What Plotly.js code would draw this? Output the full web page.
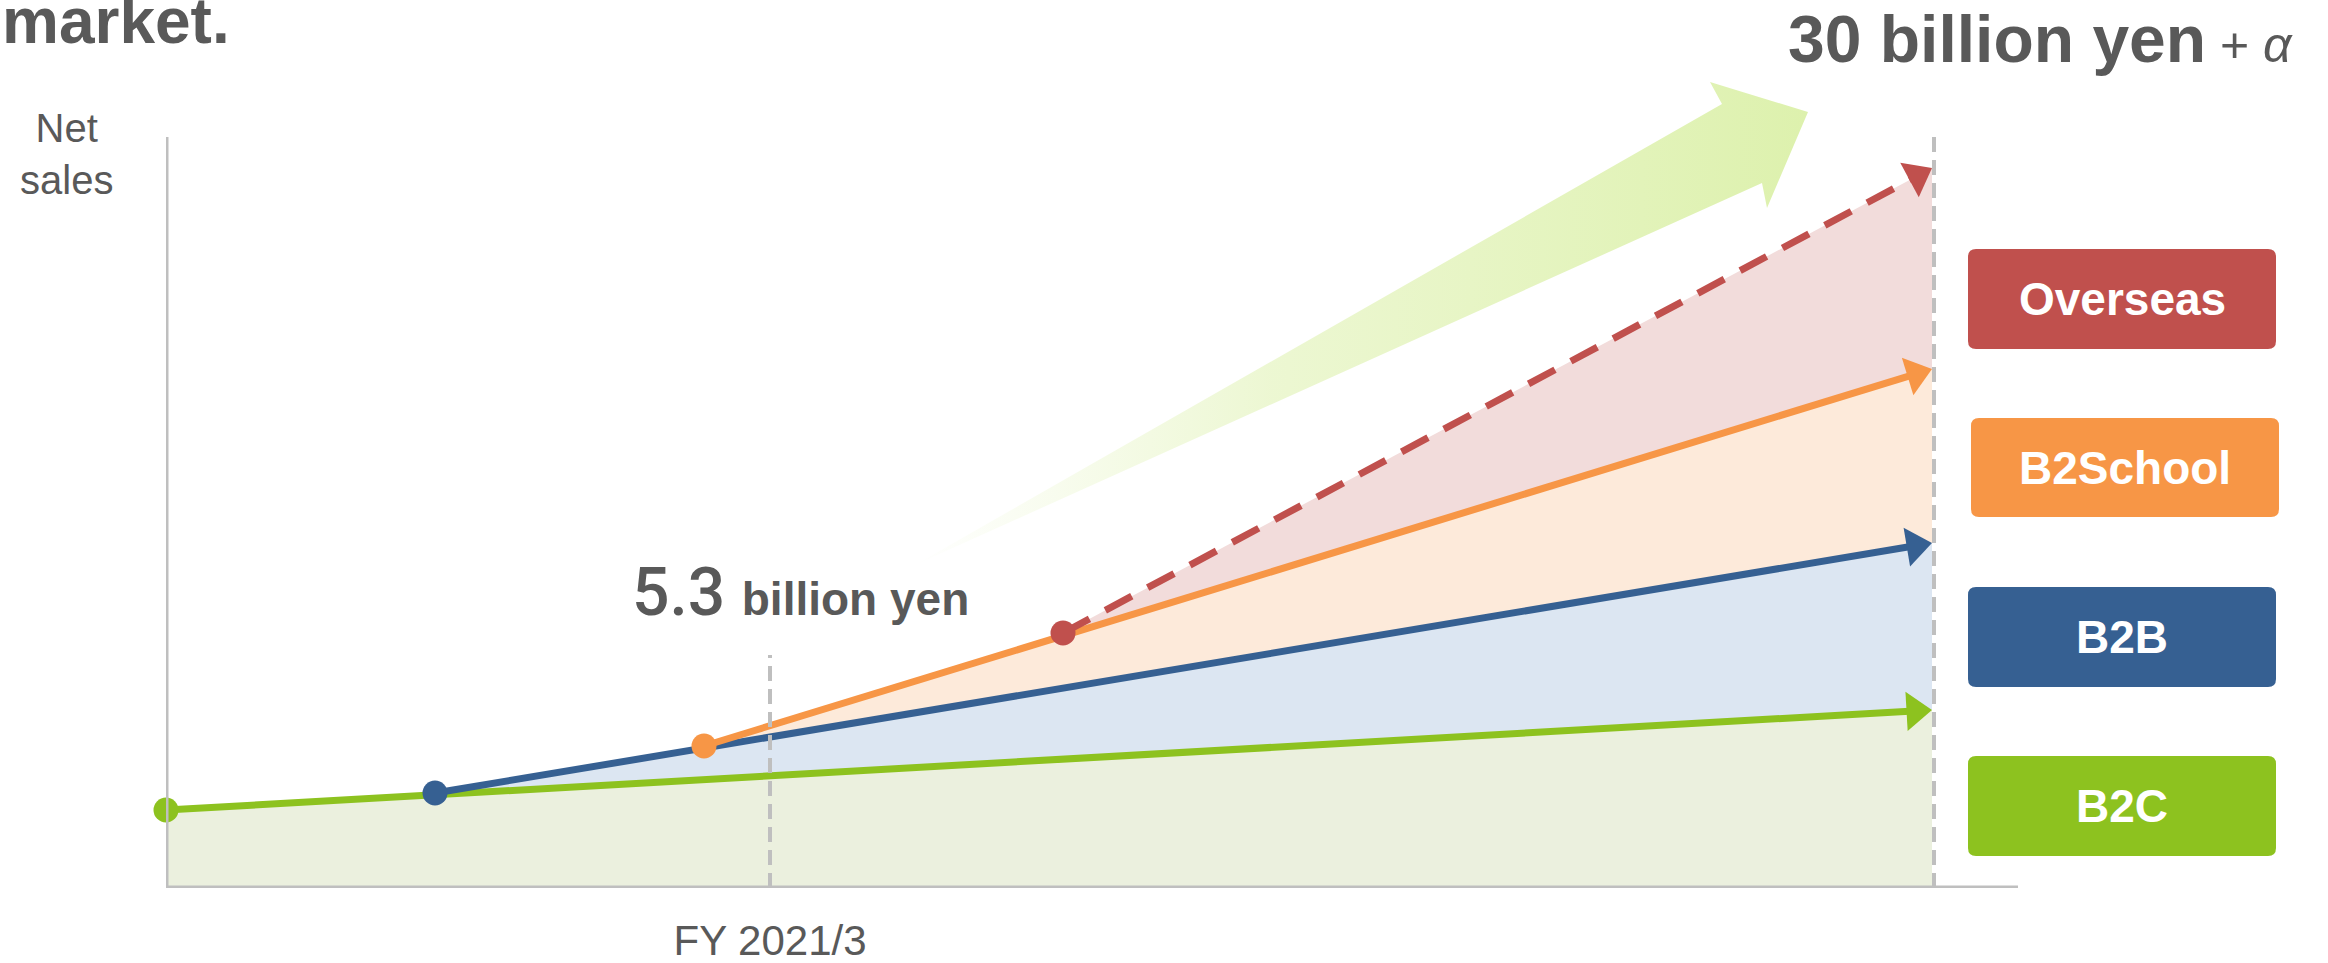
<!DOCTYPE html>
<html><head><meta charset="utf-8">
<script src="https://cdn.plot.ly/plotly-3.0.1.min.js"></script>
<style>html,body{margin:0;padding:0;background:#fff}#chart{width:2328px;height:963px}</style>
</head><body><div id="chart"></div>
<script>
// ---- Data (abstract units) ----
const segments = ['B2C', 'B2B', 'B2School', 'Overseas'];
const b2cX = [0, 1766];
const b2cY = [78, 178];
const b2bX = [269, 1766];
const b2bY = [95, 345];
const b2sX = [538, 1766];
const b2sY = [142, 519];
const ovsX = [897, 1766];
const ovsY = [255, 720];
const tickVals = [604];
const tickText = ['FY 2021/3'];
const startLabel = ['5.3', 'billion yen'];
const endLabel = ['30 billion yen', '+', 'α'];
const legendLabels = ['Overseas', 'B2School', 'B2B', 'B2C'];

// ---- Styles ----
const lineColors = {B2C: '#8DC21F', B2B: '#366092', B2School: '#F79646', Overseas: '#C0504D'};
const fillColors = {B2C: 'rgb(235,240,222)', B2B: 'rgb(220,230,242)', B2School: 'rgb(253,234,218)', Overseas: 'rgb(242,220,219)'};
const textGrey = '#595959';
const axisGrey = '#BFBFBF';
const FONT = 'Liberation Sans, Arial, sans-serif';

const traces = [];

// decorative growth arrow (gradient)
const deco = {x: [749, 1556, 1544, 1642, 1601, 1596, 749], y: [323, 784, 806, 776, 680, 705, 323]};
traces.push({
  type: 'scatter', mode: 'none', x: deco.x, y: deco.y, fill: 'toself',
  fillgradient: {type: 'horizontal', colorscale: [[0, 'rgba(226,243,185,0)'], [0.4, 'rgba(224,242,180,0.6)'], [1, 'rgba(221,241,173,1)']]},
  hoverinfo: 'skip', showlegend: false
});

// filled areas
traces.push({type: 'scatter', mode: 'none', x: b2cX, y: b2cY, fill: 'tozeroy', fillcolor: fillColors.B2C, hoverinfo: 'skip', showlegend: false});
function band(xa, ya, xb, yb, color) {
  return {type: 'scatter', mode: 'none', x: [xa[0], xa[1], xb[1], xa[0]], y: [ya[0], ya[1], yb[1], ya[0]],
    fill: 'toself', fillcolor: color, hoverinfo: 'skip', showlegend: false};
}
traces.push(band(b2bX, b2bY, b2cX, b2cY, fillColors.B2B));
traces.push(band(b2sX, b2sY, b2bX, b2bY, fillColors.B2School));
traces.push(band(ovsX, ovsY, b2sX, b2sY, fillColors.Overseas));

// lines with end arrow, then start dot
function lineTrace(name, x, y, dash) {
  const c = lineColors[name];
  return {type: 'scatter', mode: 'lines+markers', name, x, y, cliponaxis: false,
    line: {color: c, width: 7, dash: dash || 'solid', backoff: 14},
    marker: {symbol: 'triangle-up', size: [0, 34], standoff: 17, opacity: 1, color: c, angleref: 'previous', line: {width: 0}},
    hoverinfo: 'skip', showlegend: false};
}
function dotTrace(name, x, y) {
  return {type: 'scatter', mode: 'markers', x: [x[0]], y: [y[0]], cliponaxis: false,
    marker: {symbol: 'circle', size: 25, opacity: 1, color: lineColors[name], line: {width: 0}},
    hoverinfo: 'skip', showlegend: false};
}
traces.push(lineTrace('B2C', b2cX, b2cY));
traces.push(dotTrace('B2C', b2cX, b2cY));
traces.push(lineTrace('B2B', b2bX, b2bY));
traces.push(dotTrace('B2B', b2bX, b2bY));
traces.push(lineTrace('B2School', b2sX, b2sY));
traces.push(dotTrace('B2School', b2sX, b2sY));
traces.push(lineTrace('Overseas', ovsX, ovsY, '30px,18px'));
traces.push(dotTrace('Overseas', ovsX, ovsY));

// ---- shapes ----
const endX = b2cX[b2cX.length - 1] + 2;
const shapes = [
  {type: 'line', xref: 'x', yref: 'y', x0: 0, x1: 0, y0: 0, y1: 751, line: {color: axisGrey, width: 5}, layer: 'above'},
  {type: 'line', xref: 'x', yref: 'y', x0: 0, x1: 1852, y0: 0, y1: 0, line: {color: axisGrey, width: 5}, layer: 'above'},
  {type: 'line', xref: 'x', yref: 'y', x0: tickVals[0], x1: tickVals[0], y0: 0, y1: 233, line: {color: axisGrey, width: 4, dash: '15px,8px'}, layer: 'above'},
  {type: 'line', xref: 'x', yref: 'y', x0: endX, x1: endX, y0: 0, y1: 755, line: {color: axisGrey, width: 4, dash: '15px,8px'}, layer: 'above'}
];
function roundRect(x0, y0, x1, y1, r) {
  return `M${x0 + r},${y0} L${x1 - r},${y0} Q${x1},${y0} ${x1},${y0 + r} L${x1},${y1 - r} Q${x1},${y1} ${x1 - r},${y1} L${x0 + r},${y1} Q${x0},${y1} ${x0},${y1 - r} L${x0},${y0 + r} Q${x0},${y0} ${x0 + r},${y0} Z`;
}
const boxPos = [
  {x0: 1802, x1: 2110, y0: 539, y1: 639},
  {x0: 1805, x1: 2113, y0: 371, y1: 470},
  {x0: 1802, x1: 2110, y0: 201, y1: 301},
  {x0: 1802, x1: 2110, y0: 32, y1: 132}
];
const annotations = [];
legendLabels.forEach((lab, i) => {
  const b = boxPos[i];
  shapes.push({type: 'path', xref: 'x', yref: 'y', path: roundRect(b.x0, b.y0, b.x1, b.y1, 8),
    fillcolor: lineColors[lab], line: {width: 0}, layer: 'above'});
  annotations.push({xref: 'x', yref: 'y', x: (b.x0 + b.x1) / 2, y: (b.y0 + b.y1) / 2, text: '<b>' + lab + '</b>',
    showarrow: false, font: {family: FONT, size: 46, color: '#FFFFFF'}, xanchor: 'center', yanchor: 'middle'});
});

// text annotations
annotations.push({xref: 'paper', yref: 'paper', x: -166 / 2162, y: 0.976, xanchor: 'left', yanchor: 'middle', showarrow: false,
  text: '<b>market.</b>', font: {family: FONT, size: 64, color: textGrey}});
annotations.push({xref: 'paper', yref: 'paper', x: -100 / 2162, y: 0.8266, xanchor: 'center', yanchor: 'middle', align: 'center', showarrow: false,
  text: 'Net<br>sales', font: {family: FONT, size: 40, color: textGrey}});
annotations.push({xref: 'x', yref: 'y', x: 464, y: 296, xanchor: 'left', yanchor: 'middle', showarrow: false,
  text: startLabel[0] + ' <span style="font-size:46px;font-family:Liberation Sans"><b>' + startLabel[1] + '</b></span>',
  font: {family: 'Roboto, Liberation Sans, sans-serif', weight: 500, size: 66, color: textGrey}});
annotations.push({xref: 'x', yref: 'y', x: 2129, y: 849, xanchor: 'right', yanchor: 'middle', showarrow: false,
  text: '<b>' + endLabel[0] + '</b><span style="font-size:50px"> ' + endLabel[1] + ' <i>' + endLabel[2] + '</i></span>', font: {family: FONT, size: 66, color: textGrey}});

const layout = {
  width: 2328, height: 963,
  margin: {l: 166, r: 0, t: 0, b: 75},
  paper_bgcolor: '#FFFFFF', plot_bgcolor: '#FFFFFF',
  showlegend: false,
  xaxis: {range: [0, 2162], showgrid: false, zeroline: false, showline: false, ticks: '',
    tickvals: tickVals, ticktext: tickText, tickfont: {family: FONT, size: 42, color: textGrey},
    ticklabelstandoff: 24, automargin: false, fixedrange: true},
  yaxis: {range: [0, 888], visible: false, showgrid: false, zeroline: false, fixedrange: true},
  shapes, annotations
};
Plotly.newPlot('chart', traces, layout, {displayModeBar: false, staticPlot: true});
</script>
</body></html>
